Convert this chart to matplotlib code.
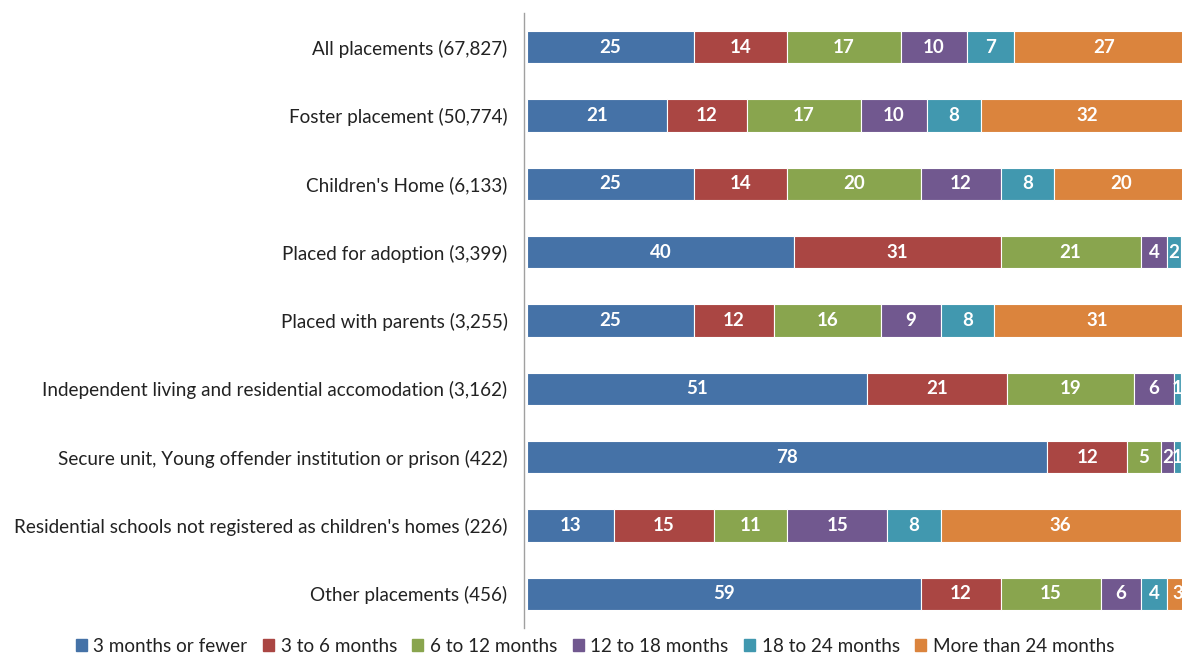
import matplotlib
matplotlib.use("Agg")
import matplotlib.pyplot as plt
from matplotlib.patches import Patch
import numpy as np

categories = [
    "All placements (67,827)",
    "Foster placement (50,774)",
    "Children's Home (6,133)",
    "Placed for adoption (3,399)",
    "Placed with parents (3,255)",
    "Independent living and residential accomodation (3,162)",
    "Secure unit, Young offender institution or prison (422)",
    "Residential schools not registered as children's homes (226)",
    "Other placements (456)",
]
series_names = ["3 months or fewer", "3 to 6 months", "6 to 12 months",
                "12 to 18 months", "18 to 24 months", "More than 24 months"]
s_3m = [25, 21, 25, 40, 25, 51, 78, 13, 59]
s_6m = [14, 12, 14, 31, 12, 21, 12, 15, 12]
s_12m = [17, 17, 20, 21, 16, 19, 5, 11, 15]
s_18m = [10, 10, 12, 4, 9, 6, 2, 15, 6]
s_24m = [7, 8, 8, 2, 8, 1, 1, 8, 4]
s_more = [27, 32, 20, 3, 31, 2, 2, 36, 3]
series = [s_3m, s_6m, s_12m, s_18m, s_24m, s_more]
colors = ["#4572A7", "#AA4643", "#89A54E", "#71588F", "#4198AF", "#DB843D"]

plt.rcParams['font.family'] = ['Lato', 'DejaVu Sans']

fig = plt.figure(figsize=(11.82, 6.54), dpi=100)
W, H = 1182, 654
ax = fig.add_axes([527 / W, 1 - 628 / H, 667 / W, 615 / H])

y = np.arange(len(categories))
left = np.zeros(len(categories))
for vals, col in zip(series, colors):
    vals = np.array(vals, dtype=float)
    ax.barh(y, vals, left=left, height=0.47, color=col,
            edgecolor="white", linewidth=0.8)
    for yi, l, v in zip(y, left, vals):
        ax.text(l + v / 2, yi, f"{int(v)}", ha="center", va="center",
                color="white", fontsize=13.5, fontweight="bold", clip_on=True)
    left += vals

ax.set_xlim(0, 100)
ax.set_ylim(len(categories) - 0.5, -0.5)
ax.set_yticks(y)
ax.set_yticklabels(categories)
ax.tick_params(axis="y", length=0, pad=12, labelsize=13.6, labelcolor="#222222")
ax.set_xticks([])
for s in ["top", "right", "bottom"]:
    ax.spines[s].set_visible(False)
ax.spines["left"].set_color("#A0A0A0")
ax.spines["left"].set_linewidth(1.0)
ax.spines["left"].set_position(("outward", 2))

handles = [Patch(facecolor=c, edgecolor=c) for c in colors]
fig.legend(handles, series_names, loc="center", ncol=6,
           bbox_to_anchor=(595 / W, 1 - 646 / H), frameon=False,
           fontsize=13.6, handlelength=0.6, handleheight=0.6,
           handletextpad=0.35, columnspacing=0.8, labelcolor="#222222")

fig.savefig("out.png", dpi=100)
